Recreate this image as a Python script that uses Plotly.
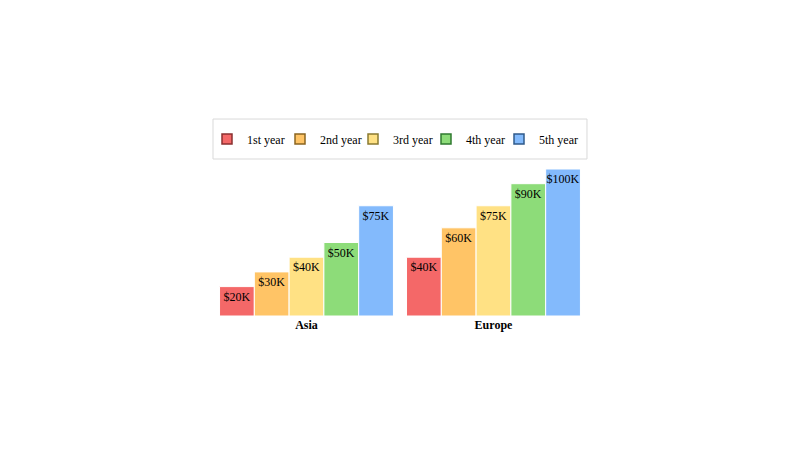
import plotly.graph_objects as go

# Data
regions = ["Asia", "Europe"]
years = ["1st year", "2nd year", "3rd year", "4th year", "5th year"]
revenue = [
    [20, 40],
    [30, 60],
    [40, 75],
    [50, 90],
    [75, 100],
]
fills = ["#F46868", "#FFC466", "#FFE184", "#8DDC79", "#83BAFC"]
edges = ["#8a2f2f", "#8a6420", "#8a7a30", "#2f7a2f", "#2f5a8a"]

fig = go.Figure()

for year, vals, fill in zip(years, revenue, fills):
    fig.add_trace(go.Bar(
        x=regions, y=vals, name=year,
        marker=dict(color=fill, line=dict(color="white", width=1)),
        text=["$%dK" % v for v in vals],
        textposition="inside", insidetextanchor="end",
        textangle=0, constraintext="none",
        textfont=dict(color="black", size=12),
        showlegend=False, hoverinfo="skip",
    ))

# legend entries with dark outlined squares
for year, fill, edge in zip(years, fills, edges):
    fig.add_trace(go.Scatter(
        x=[None], y=[None], mode="markers", name=year,
        marker=dict(symbol="square", size=10, color=fill,
                    line=dict(color=edge, width=1.5)),
    ))
# empty spacer entry so the last label isn't clipped
fig.add_trace(go.Scatter(x=[None], y=[None], mode="markers", name=" ",
                         marker=dict(color="rgba(0,0,0,0)", size=1,
                                     line=dict(width=0))))

# bars sit in the middle part of a wider plot area
dom = [0.175, 0.7983]

# legend frame spanning the bar area
fig.add_shape(type="rect", xref="paper", yref="paper",
              x0=dom[0], x1=dom[1], y0=1.068, y1=1.34,
              line=dict(color="#d9d9d9", width=1), fillcolor="white")

fig.update_layout(
    width=800, height=450,
    margin=dict(l=100, r=100, t=161, b=142),
    paper_bgcolor="white", plot_bgcolor="white",
    font=dict(family="Liberation Serif", size=12, color="black"),
    barmode="group", bargap=0.07, bargroupgap=0.0,
    legend=dict(orientation="h", x=0.165, xanchor="left",
                y=1.204, yanchor="middle",
                entrywidth=28, entrywidthmode="pixels",
                bgcolor="rgba(0,0,0,0)", font=dict(size=12)),
    xaxis=dict(domain=dom, showgrid=False, showline=False, ticks="",
               tickfont=dict(size=12), tickprefix="<b>", ticksuffix="</b>"),
    yaxis=dict(range=[0, 100], visible=False, showgrid=False),
)

fig.write_html("out.html")
